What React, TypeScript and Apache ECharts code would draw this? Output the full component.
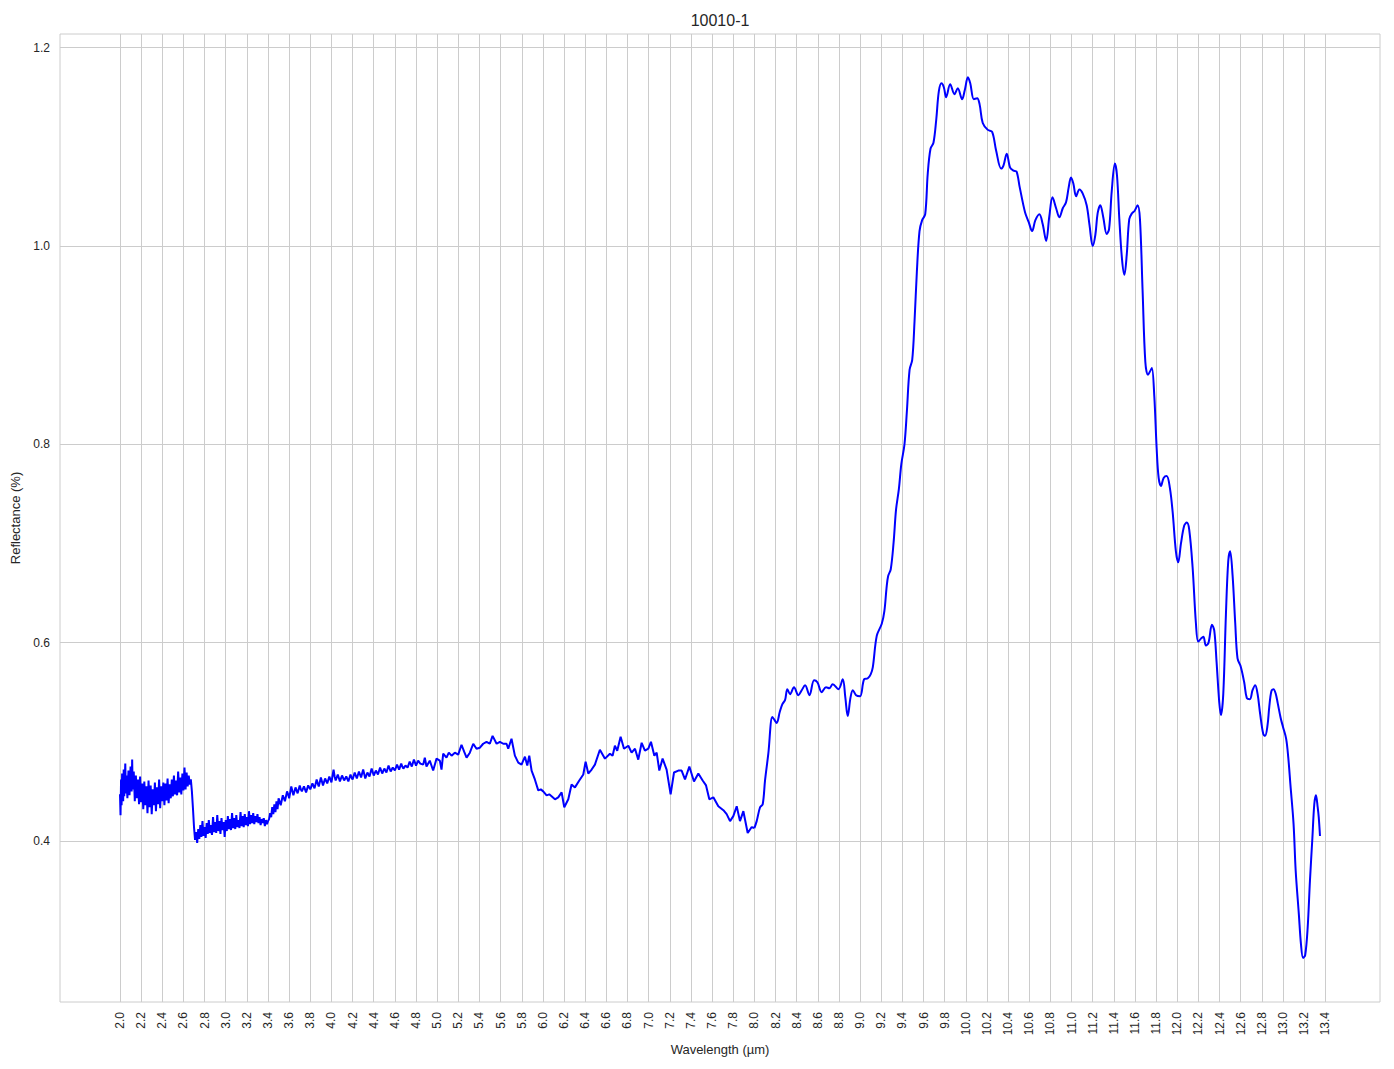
import React, { useEffect, useRef } from 'react';
import * as echarts from 'echarts';

const xTicks = [2.0, 2.2, 2.4, 2.6, 2.8, 3.0, 3.2, 3.4, 3.6, 3.8, 4.0, 4.2, 4.4, 4.6, 4.8, 5.0, 5.2, 5.4, 5.6, 5.8, 6.0, 6.2, 6.4, 6.6, 6.8, 7.0, 7.2, 7.4, 7.6, 7.8, 8.0, 8.2, 8.4, 8.6, 8.8, 9.0, 9.2, 9.4, 9.6, 9.8, 10.0, 10.2, 10.4, 10.6, 10.8, 11.0, 11.2, 11.4, 11.6, 11.8, 12.0, 12.2, 12.4, 12.6, 12.8, 13.0, 13.2, 13.4];
const yTicks = [0.4, 0.6, 0.8, 1.0, 1.2];

const TITLE = '10010-1';
const X_NAME = 'Wavelength (µm)';
const Y_NAME = 'Reflectance (%)';

// 2.00 - 2.72 µm (noisy band)
const segNoisyA: [number, number][] = [
  [2.000, 0.447], [2.005, 0.426], [2.010, 0.462], [2.015, 0.436], [2.020, 0.468], [2.025, 0.452], [2.030, 0.440], [2.035, 0.472], [2.040, 0.445],
  [2.050, 0.478], [2.055, 0.448], [2.060, 0.466], [2.065, 0.455], [2.070, 0.443], [2.080, 0.471], [2.085, 0.458], [2.090, 0.446], [2.100, 0.475], [2.110, 0.450],
  [2.115, 0.482], [2.120, 0.452], [2.130, 0.470], [2.140, 0.440], [2.145, 0.455], [2.150, 0.466], [2.160, 0.443], [2.170, 0.462], [2.180, 0.437],
  [2.190, 0.465], [2.200, 0.439], [2.205, 0.450], [2.210, 0.458], [2.220, 0.432], [2.230, 0.460], [2.240, 0.436], [2.250, 0.455], [2.260, 0.428],
  [2.270, 0.461], [2.275, 0.448], [2.280, 0.434], [2.290, 0.456], [2.300, 0.427], [2.310, 0.452], [2.320, 0.436], [2.330, 0.459], [2.340, 0.430],
  [2.350, 0.454], [2.355, 0.444], [2.360, 0.437], [2.370, 0.462], [2.380, 0.433], [2.390, 0.455], [2.400, 0.440], [2.410, 0.459], [2.420, 0.436],
  [2.430, 0.458], [2.435, 0.447], [2.440, 0.441], [2.450, 0.463], [2.460, 0.438], [2.470, 0.457], [2.480, 0.443], [2.490, 0.462], [2.500, 0.445],
  [2.510, 0.466], [2.515, 0.455], [2.520, 0.447], [2.530, 0.461], [2.540, 0.446], [2.550, 0.470], [2.560, 0.449], [2.570, 0.464], [2.580, 0.447],
  [2.590, 0.468], [2.595, 0.458], [2.600, 0.451], [2.610, 0.474], [2.620, 0.452], [2.630, 0.469], [2.640, 0.455], [2.650, 0.466], [2.660, 0.457],
  [2.670, 0.462], [2.680, 0.450], [2.690, 0.433], [2.700, 0.414], [2.710, 0.401], [2.720, 0.409],
];

// 2.73 - 3.50 µm
const segNoisyB: [number, number][] = [
  [2.73, 0.398], [2.74, 0.412], [2.75, 0.402], [2.76, 0.416], [2.77, 0.404], [2.78, 0.420], [2.79, 0.405], [2.80, 0.414],
  [2.81, 0.403], [2.82, 0.418], [2.83, 0.407], [2.84, 0.421], [2.85, 0.408], [2.86, 0.416], [2.87, 0.406], [2.88, 0.424],
  [2.89, 0.409], [2.90, 0.419], [2.91, 0.408], [2.92, 0.426], [2.93, 0.410], [2.94, 0.420], [2.95, 0.407], [2.96, 0.423],
  [2.97, 0.411], [2.98, 0.419], [2.99, 0.404], [3.00, 0.421], [3.01, 0.410], [3.02, 0.425], [3.03, 0.412], [3.04, 0.422],
  [3.05, 0.411], [3.06, 0.428], [3.07, 0.413], [3.08, 0.423], [3.09, 0.412], [3.10, 0.426], [3.11, 0.414], [3.12, 0.421],
  [3.13, 0.413], [3.14, 0.429], [3.15, 0.415], [3.16, 0.425], [3.17, 0.414], [3.18, 0.427], [3.19, 0.416], [3.20, 0.424],
  [3.21, 0.415], [3.22, 0.430], [3.23, 0.417], [3.24, 0.426], [3.25, 0.418], [3.26, 0.428], [3.27, 0.417], [3.28, 0.425],
  [3.29, 0.419], [3.30, 0.427], [3.31, 0.418], [3.32, 0.424], [3.33, 0.416], [3.34, 0.422], [3.35, 0.418], [3.36, 0.423],
  [3.37, 0.415], [3.38, 0.421], [3.39, 0.417], [3.40, 0.420], [3.41, 0.422], [3.42, 0.428], [3.43, 0.424], [3.44, 0.434],
  [3.45, 0.427], [3.46, 0.437], [3.47, 0.429], [3.48, 0.440], [3.49, 0.432], [3.50, 0.443],
];

// 3.52 - 4.84 µm
const segNoisyC: [number, number][] = [
  [3.52, 0.436], [3.53, 0.441], [3.54, 0.446], [3.56, 0.440], [3.58, 0.450], [3.59, 0.447], [3.60, 0.443], [3.62, 0.455], [3.64, 0.446], [3.66, 0.454],
  [3.68, 0.448], [3.70, 0.456], [3.71, 0.452], [3.72, 0.450], [3.74, 0.455], [3.76, 0.449], [3.78, 0.456], [3.80, 0.452], [3.82, 0.458],
  [3.84, 0.453], [3.86, 0.462], [3.87, 0.458], [3.88, 0.455], [3.90, 0.464], [3.92, 0.456], [3.94, 0.463], [3.96, 0.458], [3.98, 0.465],
  [4.00, 0.459], [4.02, 0.472], [4.03, 0.465], [4.04, 0.461], [4.06, 0.467], [4.08, 0.460], [4.10, 0.466], [4.12, 0.461], [4.14, 0.465],
  [4.16, 0.460], [4.18, 0.467], [4.19, 0.464], [4.20, 0.462], [4.22, 0.469], [4.24, 0.463], [4.26, 0.470], [4.28, 0.464], [4.30, 0.472],
  [4.32, 0.463], [4.34, 0.469], [4.35, 0.467], [4.36, 0.465], [4.38, 0.473], [4.40, 0.466], [4.42, 0.471], [4.44, 0.467], [4.46, 0.474],
  [4.48, 0.468], [4.50, 0.473], [4.51, 0.471], [4.52, 0.469], [4.54, 0.476], [4.56, 0.470], [4.58, 0.474], [4.60, 0.471], [4.62, 0.477],
  [4.64, 0.472], [4.66, 0.478], [4.67, 0.475], [4.68, 0.473], [4.70, 0.476], [4.72, 0.474], [4.74, 0.480], [4.76, 0.475], [4.78, 0.482],
  [4.80, 0.476], [4.82, 0.481], [4.84, 0.478],
];

// 4.87 - 8.00 µm
const segMid: [number, number][] = [
  [4.868, 0.477], [4.883, 0.484], [4.899, 0.475], [4.930, 0.481], [4.962, 0.471], [4.994, 0.483], [5.025, 0.481], [5.041, 0.472],
  [5.057, 0.488], [5.088, 0.484], [5.110, 0.489], [5.136, 0.486], [5.167, 0.489], [5.199, 0.487], [5.230, 0.497], [5.255, 0.490],
  [5.278, 0.484], [5.309, 0.489], [5.341, 0.498], [5.372, 0.493], [5.404, 0.494], [5.435, 0.498], [5.467, 0.500], [5.498, 0.498],
  [5.524, 0.506], [5.562, 0.498], [5.593, 0.500], [5.625, 0.498], [5.656, 0.498], [5.672, 0.493], [5.703, 0.503], [5.735, 0.486],
  [5.767, 0.479], [5.798, 0.477], [5.830, 0.485], [5.852, 0.476], [5.871, 0.486], [5.893, 0.471], [5.924, 0.462], [5.956, 0.451],
  [5.980, 0.452], [6.003, 0.450], [6.035, 0.446], [6.060, 0.447], [6.082, 0.445], [6.114, 0.442], [6.145, 0.444], [6.177, 0.449],
  [6.202, 0.434], [6.240, 0.442], [6.271, 0.457], [6.303, 0.454], [6.344, 0.461], [6.382, 0.467], [6.404, 0.480], [6.429, 0.468],
  [6.461, 0.472], [6.492, 0.477], [6.539, 0.492], [6.587, 0.483], [6.634, 0.488], [6.659, 0.486], [6.681, 0.496], [6.703, 0.491],
  [6.735, 0.505], [6.767, 0.493], [6.808, 0.496], [6.839, 0.489], [6.871, 0.493], [6.902, 0.482], [6.934, 0.499], [6.965, 0.491],
  [6.997, 0.493], [7.022, 0.500], [7.054, 0.486], [7.076, 0.489], [7.101, 0.471], [7.132, 0.483], [7.170, 0.472], [7.208, 0.447],
  [7.240, 0.469], [7.281, 0.471], [7.312, 0.471], [7.344, 0.462], [7.385, 0.475], [7.429, 0.460], [7.470, 0.468], [7.511, 0.461],
  [7.543, 0.456], [7.574, 0.442], [7.612, 0.444], [7.659, 0.435], [7.707, 0.431], [7.738, 0.427], [7.770, 0.420], [7.801, 0.425],
  [7.833, 0.435], [7.864, 0.420], [7.896, 0.430], [7.937, 0.408], [7.975, 0.414], [8.000, 0.413],
];

// 8.02 - 9.21 µm
const segRise: [number, number][] = [
  [8.022, 0.420], [8.054, 0.434], [8.079, 0.437], [8.101, 0.461], [8.132, 0.488], [8.170, 0.525], [8.190, 0.522], [8.211, 0.519],
  [8.240, 0.530], [8.265, 0.538], [8.290, 0.542], [8.312, 0.553], [8.338, 0.548], [8.375, 0.555], [8.416, 0.547], [8.448, 0.552],
  [8.480, 0.557], [8.521, 0.547], [8.565, 0.562], [8.596, 0.560], [8.637, 0.550], [8.678, 0.555], [8.710, 0.554], [8.741, 0.558],
  [8.795, 0.553], [8.836, 0.563], [8.860, 0.545], [8.883, 0.526], [8.910, 0.545], [8.931, 0.552], [8.962, 0.547], [9.000, 0.546],
  [9.038, 0.563], [9.073, 0.564], [9.100, 0.568], [9.120, 0.575], [9.158, 0.607], [9.205, 0.619],
];

// 9.23 - 11.04 µm
const segPeak: [number, number][] = [
  [9.230, 0.632], [9.250, 0.655], [9.265, 0.667], [9.290, 0.674], [9.317, 0.701], [9.340, 0.734], [9.367, 0.755], [9.390, 0.780],
  [9.420, 0.800], [9.443, 0.834], [9.468, 0.875], [9.493, 0.885], [9.515, 0.924], [9.537, 0.974], [9.562, 1.015], [9.587, 1.026],
  [9.616, 1.032], [9.640, 1.073], [9.666, 1.098], [9.694, 1.104], [9.720, 1.127], [9.745, 1.156], [9.770, 1.164], [9.792, 1.160],
  [9.814, 1.150], [9.852, 1.163], [9.893, 1.153], [9.924, 1.159], [9.965, 1.148], [9.990, 1.157], [10.020, 1.170], [10.042, 1.164],
  [10.076, 1.148], [10.107, 1.149], [10.130, 1.143], [10.160, 1.124], [10.208, 1.117], [10.249, 1.115], [10.287, 1.096], [10.334, 1.078],
  [10.356, 1.081], [10.387, 1.093], [10.419, 1.079], [10.450, 1.076], [10.480, 1.075], [10.510, 1.059], [10.560, 1.034], [10.595, 1.024],
  [10.627, 1.015], [10.658, 1.026], [10.696, 1.032], [10.727, 1.022], [10.760, 1.005], [10.790, 1.030], [10.820, 1.049], [10.854, 1.038],
  [10.885, 1.029], [10.917, 1.038], [10.948, 1.044], [10.973, 1.059], [10.995, 1.069], [11.017, 1.063], [11.043, 1.050],
];

// 11.07 - 12.95 µm
const segFall: [number, number][] = [
  [11.074, 1.057], [11.105, 1.053], [11.143, 1.041], [11.170, 1.021], [11.200, 1.000], [11.225, 1.011], [11.247, 1.033], [11.272, 1.041],
  [11.300, 1.029], [11.332, 1.012], [11.355, 1.017], [11.380, 1.055], [11.410, 1.083], [11.430, 1.071], [11.452, 1.027], [11.477, 0.987],
  [11.500, 0.971], [11.522, 0.991], [11.546, 1.027], [11.572, 1.033], [11.594, 1.035], [11.625, 1.041], [11.647, 1.027], [11.672, 0.955],
  [11.698, 0.883], [11.723, 0.870], [11.745, 0.874], [11.760, 0.877], [11.783, 0.848], [11.805, 0.796], [11.824, 0.766], [11.846, 0.758],
  [11.871, 0.766], [11.900, 0.768], [11.930, 0.756], [11.956, 0.732], [11.987, 0.692], [12.009, 0.681], [12.035, 0.700], [12.066, 0.718],
  [12.090, 0.721], [12.113, 0.714], [12.145, 0.676], [12.176, 0.620], [12.198, 0.601], [12.224, 0.604], [12.247, 0.606], [12.271, 0.597],
  [12.296, 0.600], [12.328, 0.618], [12.350, 0.612], [12.372, 0.580], [12.397, 0.540], [12.413, 0.527], [12.435, 0.548], [12.460, 0.628],
  [12.482, 0.682], [12.500, 0.692], [12.523, 0.668], [12.548, 0.620], [12.570, 0.584], [12.600, 0.576], [12.633, 0.560], [12.658, 0.544],
  [12.687, 0.543], [12.712, 0.552], [12.737, 0.557], [12.760, 0.548], [12.784, 0.528], [12.813, 0.508], [12.830, 0.506], [12.853, 0.516],
  [12.870, 0.535], [12.890, 0.551], [12.910, 0.553], [12.930, 0.549], [12.950, 0.539],
];

// 12.98 - 13.35 µm
const segEnd: [number, number][] = [
  [12.978, 0.524], [13.000, 0.515], [13.030, 0.503], [13.050, 0.484], [13.070, 0.457], [13.100, 0.417], [13.120, 0.370], [13.150, 0.326],
  [13.170, 0.296], [13.190, 0.282], [13.210, 0.285], [13.233, 0.312], [13.255, 0.360], [13.278, 0.403], [13.296, 0.437], [13.312, 0.446],
  [13.328, 0.434], [13.338, 0.424], [13.350, 0.405],
];

const X_MIN = 1.4325;
const X_MAX = 13.9175;
const Y_MIN = 0.2376;
const Y_MAX = 1.2137;

const FONT = '"Liberation Sans", Arial, Helvetica, sans-serif';
const TEXT = '#262626';
const GRID = '#cccccc';
const LINE = '#0000ff';

export default function App() {
  const ref = useRef<HTMLDivElement>(null);
  useEffect(() => {
    if (!ref.current) return;
    const chart = echarts.init(ref.current, null, { renderer: 'svg' });
    const noisyData = [...segNoisyA, ...segNoisyB, ...segNoisyC, ...segMid];
    const smoothData = [segMid[segMid.length - 1], ...segRise, ...segPeak, ...segFall, ...segEnd];
    chart.setOption({
      animation: false,
      backgroundColor: '#ffffff',
      textStyle: { fontFamily: FONT },
      grid: {
        left: 60, right: 14, top: 34, bottom: 67,
        show: true, borderColor: GRID, borderWidth: 1, backgroundColor: 'transparent',
        containLabel: false,
      },
      graphic: [
        {
          type: 'text', x: 720, y: 20, z: 10,
          style: {
            text: TITLE, font: `16px ${FONT}`, fill: TEXT,
            align: 'center', verticalAlign: 'middle', textAlign: 'center', textVerticalAlign: 'middle',
          },
        },
      ],
      xAxis: {
        type: 'value', min: X_MIN, max: X_MAX,
        name: X_NAME, nameLocation: 'middle', nameGap: 38,
        nameTextStyle: { fontSize: 13, color: TEXT, fontFamily: FONT },
        axisLine: { show: false }, axisTick: { show: false }, splitLine: { show: false },
        axisLabel: {
          customValues: xTicks, interval: 0, rotate: 90, margin: 10, fontSize: 12, color: TEXT, fontFamily: FONT,
          formatter: (v: number) => v.toFixed(1), hideOverlap: false,
        },
      },
      yAxis: {
        type: 'value', min: Y_MIN, max: Y_MAX,
        name: Y_NAME, nameLocation: 'middle', nameGap: 34,
        nameTextStyle: { fontSize: 13, color: TEXT, fontFamily: FONT },
        axisLine: { show: false }, axisTick: { show: false }, splitLine: { show: false },
        axisLabel: {
          customValues: yTicks, margin: 10, fontSize: 12, color: TEXT, fontFamily: FONT,
          formatter: (v: number) => v.toFixed(1),
        },
      },
      series: [
        {
          type: 'line', data: noisyData, showSymbol: false, symbol: 'none', z: 3, clip: true,
          lineStyle: { color: LINE, width: 2 },
          emphasis: { disabled: true },
          markLine: {
            z: 1, silent: true, symbol: ['none', 'none'], label: { show: false },
            emphasis: { disabled: true },
            lineStyle: { color: GRID, width: 1, type: 'solid' },
            data: [
              ...xTicks.map((v) => ({ xAxis: v })),
              ...yTicks.map((v) => ({ yAxis: v })),
            ],
          },
        },
        {
          type: 'line', data: smoothData, showSymbol: false, symbol: 'none', z: 3, clip: true,
          smooth: 0.35,
          lineStyle: { color: LINE, width: 2 },
          emphasis: { disabled: true },
        },
      ],
    });
    return () => chart.dispose();
  }, []);
  return <div ref={ref} style={{ position: 'absolute', left: 0, top: 0, width: 1394, height: 1069 }} />;
}
